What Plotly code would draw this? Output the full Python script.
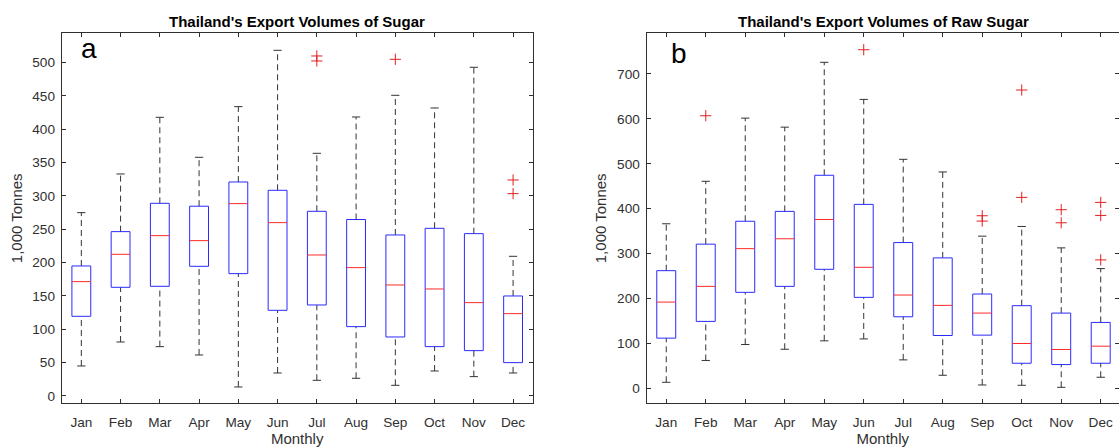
import plotly.graph_objects as go

months = ['Jan', 'Feb', 'Mar', 'Apr', 'May', 'Jun', 'Jul', 'Aug', 'Sep', 'Oct', 'Nov', 'Dec']

# Panel a: Sugar (1,000 tonnes)
sugar_lower = [45, 81, 74, 61.5, 13.5, 34.5, 23.5, 26.5, 16, 37.5, 29, 34.5]
sugar_q1 = [119.5, 163, 164.5, 194.5, 183.5, 128.5, 136.5, 104, 88.5, 74, 68, 50]
sugar_median = [171.5, 212.5, 240.5, 233, 288.5, 260, 211.5, 192.5, 166.5, 160.5, 140, 123.5]
sugar_q3 = [195, 246.5, 289, 284.6, 321, 308.5, 277, 264.7, 241.5, 251.5, 243.5, 150]
sugar_upper = [275, 333, 418, 358, 434, 518.5, 364, 418.5, 451, 432, 493, 209.5]
sugar_out_month = [7, 7, 9, 12, 12]
sugar_out_value = [510, 502.5, 505, 324, 303.5]

# Panel b: Raw sugar (1,000 tonnes)
raw_lower = [13.4, 62, 97.5, 87, 105.7, 110, 63.3, 29, 7.4, 6.7, 2.2, 24.6]
raw_q1 = [111.7, 149, 213.7, 227, 265, 202.5, 159.3, 117.6, 118.4, 55.8, 52.9, 55.8]
raw_median = [192, 227, 311, 333, 376, 269.5, 207.7, 184.7, 167.5, 99.8, 86.4, 93.8]
raw_q3 = [262, 321, 372, 394, 474.4, 409.6, 324.6, 290.4, 210, 184, 167.5, 146.7]
raw_upper = [366.4, 461, 601.7, 581.6, 726, 643.4, 510, 481.8, 338.8, 360.4, 312.7, 266.6]
raw_out_month = [2, 6, 9, 9, 10, 10, 11, 11, 12, 12, 12]
raw_out_value = [607, 754, 384.3, 372.4, 664.3, 425.2, 397.7, 368.6, 414, 385, 286]

BOX_HALF = 0.24
CAP_HALF = 0.105
FONT = "Liberation Sans, Arial, Helvetica, sans-serif"
AX_COLOR = '#303030'

fig = go.Figure()


def add_panel(lower, q1, med, q3, upper, out_m, out_v, xa, ya):
    wx, wy, cx, cy, bx, by, mx, my = [], [], [], [], [], [], [], []
    for i in range(len(months)):
        p = i + 1
        # whiskers
        wx += [p, p, None, p, p, None]
        wy += [q3[i], upper[i], None, lower[i], q1[i], None]
        # caps
        cx += [p - CAP_HALF, p + CAP_HALF, None, p - CAP_HALF, p + CAP_HALF, None]
        cy += [upper[i], upper[i], None, lower[i], lower[i], None]
        # box
        bx += [p - BOX_HALF, p + BOX_HALF, p + BOX_HALF, p - BOX_HALF, p - BOX_HALF, None]
        by += [q1[i], q1[i], q3[i], q3[i], q1[i], None]
        # median
        mx += [p - BOX_HALF, p + BOX_HALF, None]
        my += [med[i], med[i], None]
    common = dict(mode='lines', hoverinfo='skip', showlegend=False, xaxis=xa, yaxis=ya)
    fig.add_trace(go.Scatter(x=wx, y=wy, line=dict(color='#333333', width=1, dash='6px,4px'), **common))
    fig.add_trace(go.Scatter(x=cx, y=cy, line=dict(color='#333333', width=1), **common))
    fig.add_trace(go.Scatter(x=bx, y=by, line=dict(color='#2a2aff', width=1), **common))
    fig.add_trace(go.Scatter(x=mx, y=my, line=dict(color='#ff2a2a', width=1), **common))
    fig.add_trace(go.Scatter(x=out_m, y=out_v, mode='markers', showlegend=False, xaxis=xa, yaxis=ya,
                             hoverinfo='skip',
                             marker=dict(symbol='cross-thin', size=8, line=dict(color='#e02020', width=1))))


add_panel(sugar_lower, sugar_q1, sugar_median, sugar_q3, sugar_upper, sugar_out_month, sugar_out_value, 'x', 'y')
add_panel(raw_lower, raw_q1, raw_median, raw_q3, raw_upper, raw_out_month, raw_out_value, 'x2', 'y2')

W, H = 1119, 447
ydom = [(H - 403.3) / H, (H - 33.3) / H]

axis_common = dict(showline=True, linecolor=AX_COLOR, linewidth=1, mirror='ticks', ticks='inside',
                   ticklen=4, tickcolor=AX_COLOR, tickwidth=1, showgrid=False, zeroline=False,
                   tickfont=dict(family=FONT, size=13.6, color=AX_COLOR))

xticks = dict(tickmode='array', tickvals=list(range(1, 13)), ticktext=months, ticklabelstandoff=6)
xtitle = dict(text='Monthly', font=dict(family=FONT, size=15, color=AX_COLOR), standoff=5)
ytitle = dict(text='1,000 Tonnes', font=dict(family=FONT, size=15, color=AX_COLOR), standoff=6)

fig.update_layout(
    width=W, height=H,
    margin=dict(l=0, r=0, t=0, b=0),
    paper_bgcolor='white', plot_bgcolor='white',
    xaxis=dict(domain=[61.7 / W, 532.7 / W], range=[0.5, 12.5], anchor='y', **xticks, **axis_common,
               title=xtitle),
    yaxis=dict(domain=ydom, range=[-11, 544], anchor='x', tickvals=list(range(0, 501, 50)), **axis_common,
               ticklabelstandoff=3, title=ytitle),
    xaxis2=dict(domain=[646.5 / W, 1.0], range=[0.5, 12.463], anchor='y2', **xticks, **axis_common,
                title=xtitle),
    yaxis2=dict(domain=ydom, range=[-33.4, 790.6], anchor='x2', tickvals=list(range(0, 701, 100)), **axis_common,
                ticklabelstandoff=3, title=ytitle),
    annotations=[
        dict(text="<b>Thailand's Export Volumes of Sugar</b>", xref='paper', yref='paper',
             x=(61.7 + 532.7) / 2 / W, y=1 - 21 / H, xanchor='center', yanchor='middle', showarrow=False,
             font=dict(family=FONT, size=15, color='#000000')),
        dict(text="<b>Thailand's Export Volumes of Raw Sugar</b>", xref='paper', yref='paper',
             x=(646.5 + 1120.5) / 2 / W, y=1 - 21 / H, xanchor='center', yanchor='middle', showarrow=False,
             font=dict(family=FONT, size=15, color='#000000')),
        dict(text='a', xref='paper', yref='paper', x=89 / W, y=1 - 49 / H, xanchor='center', yanchor='middle',
             showarrow=False, font=dict(family=FONT, size=28, color='#000000')),
        dict(text='b', xref='paper', yref='paper', x=679 / W, y=1 - 53 / H, xanchor='center', yanchor='middle',
             showarrow=False, font=dict(family=FONT, size=28, color='#000000')),
    ],
)

fig.write_html('out.html')
